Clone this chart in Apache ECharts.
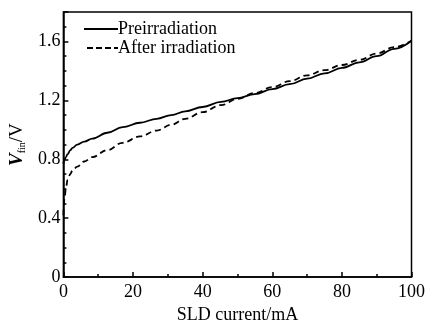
<!DOCTYPE html>
<html><head><meta charset="utf-8">
<script src="https://cdn.jsdelivr.net/npm/echarts@6/dist/echarts.min.js"></script>
<style>html,body{margin:0;padding:0;background:#fff}#c{width:428px;height:329px}</style>
</head><body><div id="c"></div>
<script>
const xCurrent = [0, 0.3, 0.75, 1.2, 2, 2.6, 4, 6, 8.3, 12.6, 17, 22, 26.8, 31, 35, 40, 45.3, 50, 55, 60, 65, 70, 75, 80, 85, 90, 95, 100];
const preIrr   = [0.77, 0.795, 0.815, 0.835, 0.862, 0.877, 0.9, 0.92, 0.94, 0.98, 1.018, 1.048, 1.075, 1.1, 1.125, 1.155, 1.19, 1.215, 1.243, 1.276, 1.31, 1.347, 1.383, 1.42, 1.458, 1.5, 1.55, 1.605];
const postIrr  = [0.42, 0.53, 0.61, 0.66, 0.7, 0.725, 0.75, 0.785, 0.815, 0.862, 0.912, 0.955, 0.995, 1.035, 1.075, 1.12, 1.168, 1.21, 1.25, 1.29, 1.33, 1.37, 1.405, 1.44, 1.475, 1.518, 1.562, 1.605];
const seriesNames = ['Preirradiation', 'After irradiation'];
const xTicks = [0, 20, 40, 60, 80, 100];
const yTicks = [0, 0.4, 0.8, 1.2, 1.6];

const font = 'Liberation Serif';
const chart = echarts.init(document.getElementById('c'));
const zip = (ys) => xCurrent.map((x, i) => [x, ys[i]]);
chart.setOption({
  animation: false,
  grid: {left: 61, right: 15, top: 12, bottom: 42, show: true, borderColor: '#000', borderWidth: 1.5, backgroundColor: 'transparent'},
  legend: {
    orient: 'vertical', left: 78, top: 15, itemWidth: 34, itemHeight: 10, itemGap: 1,
    itemStyle: {opacity: 0},
    textStyle: {fontFamily: font, fontSize: 18, lineHeight: 16, color: '#000', padding: [0,0,0,-5]},
    data: [
      {name: seriesNames[0]},
      {name: seriesNames[1], lineStyle: {type: [6, 3], dashOffset: 6}}
    ]
  },
  xAxis: {
    type: 'value', min: 0, max: 100, interval: 20,
    name: 'SLD current/mA', nameLocation: 'middle', nameGap: 26,
    nameTextStyle: {fontFamily: font, fontSize: 18, color: '#000'},
    axisLine: {lineStyle: {color: '#000', width: 1.5}},
    axisTick: {inside: true, length: 5, lineStyle: {color: '#000', width: 1.5}},
    minorTick: {show: true, splitNumber: 2, length: 3, lineStyle: {color: '#000', width: 1.5}},
    splitLine: {show: false},
    axisLabel: {fontFamily: font, fontSize: 18, color: '#000', margin: 6,
      formatter: v => xTicks.includes(v) ? String(v) : ''}
  },
  yAxis: [{
    type: 'value', min: 0, max: 1.8, interval: 0.4, position: 'left',
    name: '{i|V}{s|fin}{n|/V}', nameLocation: 'middle', nameGap: 32, nameRotate: 90,
    nameTextStyle: {rich: {
      i: {fontFamily: font, fontSize: 19, fontStyle: 'italic', fontWeight: 'bold', color: '#000'},
      s: {fontFamily: font, fontSize: 10, color: '#000', verticalAlign: 'bottom', padding: [9,0,0,0]},
      n: {fontFamily: font, fontSize: 19, color: '#000'}
    }},
    axisLine: {lineStyle: {color: '#000', width: 1.5}},
    axisTick: {inside: true, length: 5, lineStyle: {color: '#000', width: 1.5}},
    splitLine: {show: false},
    axisLabel: {fontFamily: font, fontSize: 18, color: '#000', margin: 3,
      formatter: v => { const t = yTicks.find(k => Math.abs(k - v) < 1e-6); return t === undefined ? '' : (t === 0 ? '0' : t.toFixed(1)); }}
  }, {
    type: 'value', min: 0, max: 1.8, interval: 0.1, position: 'left',
    axisLine: {show: false},
    axisTick: {inside: true, length: 3, lineStyle: {color: '#000', width: 1.5}},
    axisLabel: {show: false},
    splitLine: {show: false}
  }],
  series: [{
    name: seriesNames[0], type: 'line', data: zip(preIrr), symbol: 'none', smooth: 0.4, smoothMonotone: 'x',
    lineStyle: {color: '#000', width: 1.8, type: 'solid'}, itemStyle: {color: '#000'}
  }, {
    name: seriesNames[1], type: 'line', data: zip(postIrr), symbol: 'none', smooth: 0.4, smoothMonotone: 'x',
    lineStyle: {color: '#000', width: 1.8, type: [6, 4]}, itemStyle: {color: '#000'}
  }]
});
</script></body></html>
